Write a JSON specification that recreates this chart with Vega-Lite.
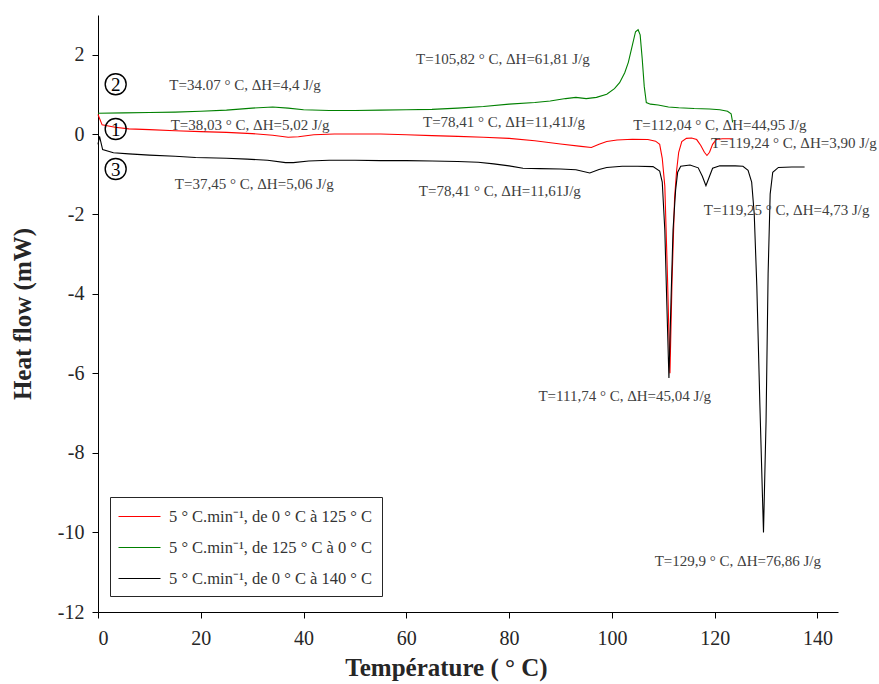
{
  "$schema": "https://vega.github.io/schema/vega-lite/v6.json",
  "width": 740,
  "height": 597,
  "autosize": {"type": "none"},
  "padding": {"left": 98, "top": 15, "right": 41, "bottom": 72},
  "background": "white",
  "config": {
    "view": {"stroke": null},
    "font": "Liberation Serif",
    "axis": {
      "grid": false,
      "domainColor": "black",
      "domainWidth": 1,
      "tickColor": "black",
      "tickSize": 6,
      "labelFont": "Liberation Serif",
      "labelFontSize": 20,
      "labelColor": "#262626",
      "titleFont": "Liberation Serif",
      "titleFontSize": 25,
      "titleFontWeight": "bold",
      "titleColor": "#262626"
    }
  },
  "datasets": {
    "curves": [
      {"s": "r", "T": 0, "H": 0.50}, {"s": "r", "T": 0.8, "H": 0.24}, {"s": "r", "T": 3.3, "H": 0.18}, {"s": "r", "T": 6, "H": 0.14},
      {"s": "r", "T": 10, "H": 0.12}, {"s": "r", "T": 15, "H": 0.09}, {"s": "r", "T": 20, "H": 0.07}, {"s": "r", "T": 25, "H": 0.05},
      {"s": "r", "T": 30, "H": 0.02}, {"s": "r", "T": 34, "H": -0.02}, {"s": "r", "T": 37, "H": -0.07}, {"s": "r", "T": 39, "H": -0.06},
      {"s": "r", "T": 42, "H": -0.01}, {"s": "r", "T": 46, "H": 0.01}, {"s": "r", "T": 50, "H": 0.01}, {"s": "r", "T": 55, "H": 0.01},
      {"s": "r", "T": 60, "H": -0.01}, {"s": "r", "T": 65, "H": -0.03}, {"s": "r", "T": 70, "H": -0.05}, {"s": "r", "T": 75, "H": -0.07},
      {"s": "r", "T": 80, "H": -0.10}, {"s": "r", "T": 85, "H": -0.16}, {"s": "r", "T": 90, "H": -0.24}, {"s": "r", "T": 94, "H": -0.30},
      {"s": "r", "T": 96, "H": -0.33}, {"s": "r", "T": 97.5, "H": -0.25}, {"s": "r", "T": 99, "H": -0.18}, {"s": "r", "T": 101, "H": -0.14},
      {"s": "r", "T": 104, "H": -0.12}, {"s": "r", "T": 107, "H": -0.13}, {"s": "r", "T": 108.5, "H": -0.17}, {"s": "r", "T": 109.3, "H": -0.25},
      {"s": "r", "T": 109.8, "H": -0.6}, {"s": "r", "T": 110.3, "H": -1.3}, {"s": "r", "T": 110.8, "H": -3.5}, {"s": "r", "T": 111.3, "H": -6.0},
      {"s": "r", "T": 111.7, "H": -3.7}, {"s": "r", "T": 112.2, "H": -1.6}, {"s": "r", "T": 112.6, "H": -0.9}, {"s": "r", "T": 113.0, "H": -0.45},
      {"s": "r", "T": 113.6, "H": -0.18}, {"s": "r", "T": 114.5, "H": -0.10}, {"s": "r", "T": 115.5, "H": -0.09}, {"s": "r", "T": 116.5, "H": -0.13},
      {"s": "r", "T": 117.3, "H": -0.28}, {"s": "r", "T": 118, "H": -0.45}, {"s": "r", "T": 118.5, "H": -0.53}, {"s": "r", "T": 119, "H": -0.45},
      {"s": "r", "T": 119.6, "H": -0.25}, {"s": "r", "T": 120.3, "H": -0.13}, {"s": "r", "T": 121.5, "H": -0.11}, {"s": "r", "T": 123.4, "H": -0.11},

      {"s": "g", "T": 0, "H": 0.53}, {"s": "g", "T": 5, "H": 0.54}, {"s": "g", "T": 10, "H": 0.55}, {"s": "g", "T": 15, "H": 0.56},
      {"s": "g", "T": 20, "H": 0.58}, {"s": "g", "T": 25, "H": 0.61}, {"s": "g", "T": 30, "H": 0.66}, {"s": "g", "T": 34, "H": 0.69},
      {"s": "g", "T": 37, "H": 0.66}, {"s": "g", "T": 40, "H": 0.62}, {"s": "g", "T": 45, "H": 0.60}, {"s": "g", "T": 50, "H": 0.60},
      {"s": "g", "T": 55, "H": 0.61}, {"s": "g", "T": 60, "H": 0.62}, {"s": "g", "T": 65, "H": 0.63}, {"s": "g", "T": 70, "H": 0.66},
      {"s": "g", "T": 75, "H": 0.70}, {"s": "g", "T": 80, "H": 0.76}, {"s": "g", "T": 85, "H": 0.80}, {"s": "g", "T": 88, "H": 0.84},
      {"s": "g", "T": 91, "H": 0.90}, {"s": "g", "T": 93, "H": 0.93}, {"s": "g", "T": 95, "H": 0.90}, {"s": "g", "T": 97, "H": 0.93},
      {"s": "g", "T": 99, "H": 1.01}, {"s": "g", "T": 100.5, "H": 1.15}, {"s": "g", "T": 101.5, "H": 1.30}, {"s": "g", "T": 102.5, "H": 1.55},
      {"s": "g", "T": 103.2, "H": 1.81}, {"s": "g", "T": 104, "H": 2.25}, {"s": "g", "T": 104.6, "H": 2.58}, {"s": "g", "T": 105.1, "H": 2.63},
      {"s": "g", "T": 105.5, "H": 2.50}, {"s": "g", "T": 105.9, "H": 1.90}, {"s": "g", "T": 106.3, "H": 1.20}, {"s": "g", "T": 106.7, "H": 0.80},
      {"s": "g", "T": 107.5, "H": 0.76}, {"s": "g", "T": 109, "H": 0.74}, {"s": "g", "T": 111, "H": 0.69}, {"s": "g", "T": 113, "H": 0.67},
      {"s": "g", "T": 116, "H": 0.65}, {"s": "g", "T": 119, "H": 0.64}, {"s": "g", "T": 121, "H": 0.62}, {"s": "g", "T": 122.5, "H": 0.58},
      {"s": "g", "T": 123.2, "H": 0.52}, {"s": "g", "T": 123.5, "H": 0.30},

      {"s": "k", "T": 0, "H": -0.25}, {"s": "k", "T": 0.3, "H": -0.05}, {"s": "k", "T": 0.9, "H": -0.38}, {"s": "k", "T": 3, "H": -0.46},
      {"s": "k", "T": 6, "H": -0.49}, {"s": "k", "T": 10, "H": -0.52}, {"s": "k", "T": 15, "H": -0.55}, {"s": "k", "T": 19, "H": -0.58},
      {"s": "k", "T": 25, "H": -0.60}, {"s": "k", "T": 29, "H": -0.62}, {"s": "k", "T": 33, "H": -0.65}, {"s": "k", "T": 36.5, "H": -0.71},
      {"s": "k", "T": 38, "H": -0.71}, {"s": "k", "T": 41, "H": -0.67}, {"s": "k", "T": 45, "H": -0.65}, {"s": "k", "T": 50, "H": -0.65},
      {"s": "k", "T": 55, "H": -0.66}, {"s": "k", "T": 60, "H": -0.66}, {"s": "k", "T": 65, "H": -0.67}, {"s": "k", "T": 70, "H": -0.68},
      {"s": "k", "T": 74, "H": -0.70}, {"s": "k", "T": 77, "H": -0.74}, {"s": "k", "T": 80, "H": -0.79}, {"s": "k", "T": 82.7, "H": -0.85},
      {"s": "k", "T": 86, "H": -0.86}, {"s": "k", "T": 90, "H": -0.87}, {"s": "k", "T": 93, "H": -0.89}, {"s": "k", "T": 95.7, "H": -0.97},
      {"s": "k", "T": 97.5, "H": -0.88}, {"s": "k", "T": 99, "H": -0.83}, {"s": "k", "T": 102, "H": -0.80}, {"s": "k", "T": 105, "H": -0.80},
      {"s": "k", "T": 108, "H": -0.81}, {"s": "k", "T": 109.3, "H": -0.92}, {"s": "k", "T": 109.8, "H": -1.2}, {"s": "k", "T": 110.3, "H": -2.4},
      {"s": "k", "T": 110.7, "H": -4.3}, {"s": "k", "T": 111.1, "H": -6.12}, {"s": "k", "T": 111.5, "H": -4.2}, {"s": "k", "T": 111.9, "H": -2.4},
      {"s": "k", "T": 112.4, "H": -1.4}, {"s": "k", "T": 112.8, "H": -0.95}, {"s": "k", "T": 113.4, "H": -0.80}, {"s": "k", "T": 115.2, "H": -0.77},
      {"s": "k", "T": 116.8, "H": -0.84}, {"s": "k", "T": 117.6, "H": -1.05}, {"s": "k", "T": 118.3, "H": -1.29}, {"s": "k", "T": 119, "H": -1.05},
      {"s": "k", "T": 119.6, "H": -0.85}, {"s": "k", "T": 121, "H": -0.79}, {"s": "k", "T": 124, "H": -0.79}, {"s": "k", "T": 125.5, "H": -0.80},
      {"s": "k", "T": 126.5, "H": -0.90}, {"s": "k", "T": 127.2, "H": -1.20}, {"s": "k", "T": 127.7, "H": -2.0}, {"s": "k", "T": 128.2, "H": -3.8},
      {"s": "k", "T": 128.8, "H": -6.8}, {"s": "k", "T": 129.5, "H": -10.0}, {"s": "k", "T": 130.0, "H": -7.2}, {"s": "k", "T": 130.4, "H": -3.5},
      {"s": "k", "T": 130.8, "H": -1.5}, {"s": "k", "T": 131.3, "H": -0.95}, {"s": "k", "T": 132.4, "H": -0.83}, {"s": "k", "T": 135, "H": -0.82},
      {"s": "k", "T": 137.5, "H": -0.82}
    ],
    "notes": [
      {"T": 28.6, "H": 1.25, "txt": "T=34.07 ° C, ΔH=4,4 J/g"},
      {"T": 29.6, "H": 0.24, "txt": "T=38,03 ° C, ΔH=5,02 J/g"},
      {"T": 30.4, "H": -1.24, "txt": "T=37,45 ° C, ΔH=5,06 J/g"},
      {"T": 78.8, "H": 1.89, "txt": "T=105,82 ° C, ΔH=61,81 J/g"},
      {"T": 79.0, "H": 0.30, "txt": "T=78,41 ° C, ΔH=11,41J/g"},
      {"T": 121.0, "H": 0.24, "txt": "T=112,04 ° C, ΔH=44,95 J/g"},
      {"T": 135.4, "H": -0.21, "txt": "T=119,24 ° C, ΔH=3,90 J/g"},
      {"T": 78.2, "H": -1.41, "txt": "T=78,41 ° C, ΔH=11,61J/g"},
      {"T": 134.0, "H": -1.89, "txt": "T=119,25 ° C, ΔH=4,73 J/g"},
      {"T": 102.5, "H": -6.58, "txt": "T=111,74 ° C, ΔH=45,04 J/g"},
      {"T": 124.5, "H": -10.71, "txt": "T=129,9 ° C, ΔH=76,86 J/g"}
    ],
    "marks": [
      {"T": 3.44, "H": 1.26, "n": "2"},
      {"T": 3.44, "H": 0.135, "n": "1"},
      {"T": 3.44, "H": -0.87, "n": "3"}
    ]
  },
  "layer": [
    {
      "data": {"name": "curves"},
      "mark": {"type": "line", "strokeWidth": 1.1},
      "encoding": {
        "x": {
          "field": "T", "type": "quantitative",
          "scale": {"domain": [0, 144], "nice": false, "zero": false},
          "axis": {"values": [0, 20, 40, 60, 80, 100, 120, 140], "labelPadding": 10, "title": "Température ( ° C)", "titlePadding": 7, "titleX": 348, "titleAlign": "center", "labelExpr": "'' + datum.value"}
        },
        "y": {
          "field": "H", "type": "quantitative",
          "scale": {"domain": [-12, 3], "nice": false, "zero": false},
          "axis": {"values": [-12, -10, -8, -6, -4, -2, 0, 2], "labelPadding": 8, "title": "Heat flow (mW)", "titlePadding": 22, "labelExpr": "'' + datum.value"}
        },
        "color": {
          "field": "s", "type": "nominal",
          "scale": {"domain": ["r", "g", "k"], "range": ["#ff0000", "#008000", "#000000"]},
          "legend": {
            "title": null,
            "orient": "none",
            "legendX": 12,
            "legendY": 482,
            "padding": 9,
            "strokeColor": "#262626",
            "fillColor": "white",
            "symbolType": "M-2.1,0H2.1",
            "symbolSize": 400,
            "symbolOffset": 10,
            "symbolStrokeWidth": 1,
            "labelFont": "Liberation Serif",
            "labelFontSize": 16.5,
            "labelColor": "#333333",
            "labelOffset": 19,
            "labelLimit": 400,
            "rowPadding": 12,
            "labelExpr": "datum.value == 'r' ? '5 ° C.min⁻¹, de 0 ° C à 125 ° C' : datum.value == 'g' ? '5 ° C.min⁻¹, de 125 ° C à 0 ° C' : '5 ° C.min⁻¹, de 0 ° C à 140 ° C'"
          }
        }
      }
    },
    {
      "data": {"name": "notes"},
      "mark": {"type": "text", "font": "Liberation Serif", "fontSize": 15, "color": "#404040", "align": "center", "baseline": "middle"},
      "encoding": {
        "x": {"field": "T", "type": "quantitative"},
        "y": {"field": "H", "type": "quantitative"},
        "text": {"field": "txt"}
      }
    },
    {
      "data": {"name": "marks"},
      "mark": {"type": "point", "shape": "circle", "filled": false, "stroke": "black", "strokeWidth": 1.4, "size": 440, "opacity": 1},
      "encoding": {
        "x": {"field": "T", "type": "quantitative"},
        "y": {"field": "H", "type": "quantitative"}
      }
    },
    {
      "data": {"name": "marks"},
      "mark": {"type": "text", "font": "Liberation Serif", "fontSize": 19, "color": "black", "align": "center", "baseline": "middle", "dy": 1},
      "encoding": {
        "x": {"field": "T", "type": "quantitative"},
        "y": {"field": "H", "type": "quantitative"},
        "text": {"field": "n"}
      }
    }
  ]
}
